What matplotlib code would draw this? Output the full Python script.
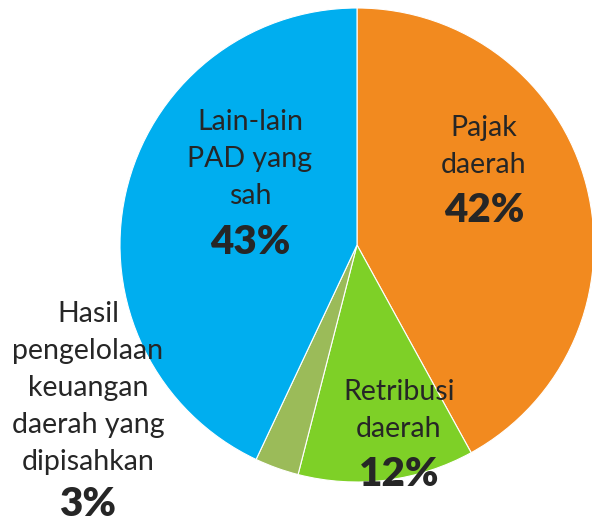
import matplotlib
matplotlib.use("Agg")
import matplotlib.pyplot as plt

categories = ["Pajak\ndaerah", "Retribusi\ndaerah",
              "Hasil\npengelolaan\nkeuangan\ndaerah yang\ndipisahkan",
              "Lain-lain\nPAD yang\nsah"]
values = [42, 12, 3, 43]
colors = ["#F28A1F", "#7ED027", "#9BBB59", "#00AEEF"]

W, H = 592, 523
fig = plt.figure(figsize=(W / 100, H / 100), dpi=100)
ax = fig.add_axes([0, 0, 1, 1])

cx, cy, r = 357, H - 245, 237
ax.pie(values, colors=colors, startangle=90, counterclock=False,
       center=(cx, cy), radius=r, frame=True,
       wedgeprops=dict(edgecolor="white", linewidth=0.8))
ax.set_xlim(0, W)
ax.set_ylim(0, H)
ax.set_aspect("auto")
ax.axis("off")

txt_color = "#262626"
font = "Lato"
# (x center, y of first text line center, y of percent center) in pixels from top
label_pos = [(484, 128, 210), (399, 392, 474), (88, 314, 505), (250, 122, 243)]
line_gap = 37
for cat, v, (x, y0, yp) in zip(categories, values, label_pos):
    for i, line in enumerate(cat.split("\n")):
        ax.text(x, H - (y0 + i * line_gap), line, ha="center", va="center",
                fontsize=20.5, color=txt_color, family=font)
    ax.text(x, H - yp, f"{v}%", ha="center", va="center",
            fontsize=29, fontweight="heavy", color=txt_color, family=font)

fig.savefig("out.png", dpi=100)
